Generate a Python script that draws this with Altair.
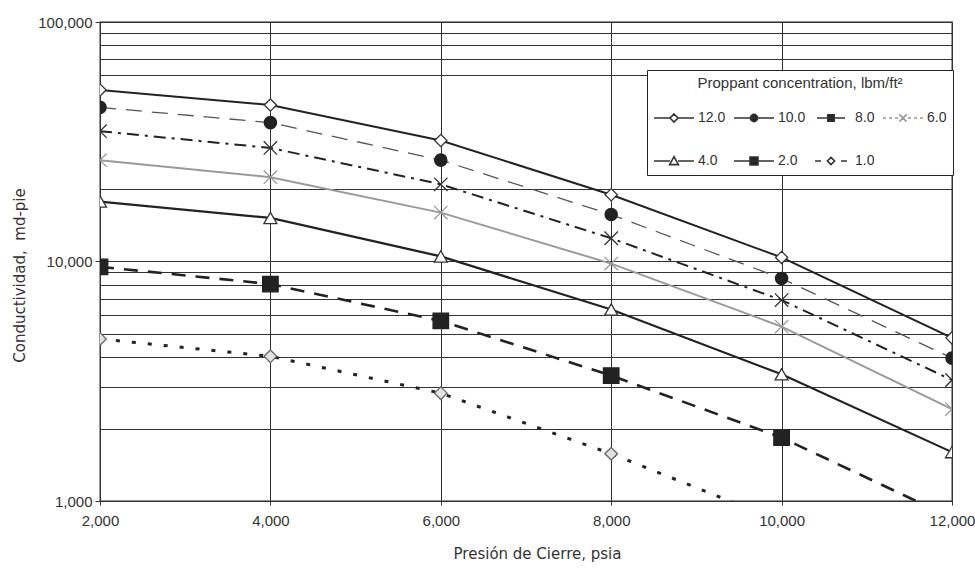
import altair as alt
import pandas as pd

# ---------------- data ----------------
pressure = [2000, 4000, 6000, 8000, 10000, 12000]
series_names = ["12.0", "10.0", "8.0", "6.0", "4.0", "2.0", "1.0"]

c12 = [52000, 45000, 32000, 19000, 10400, 4800]
c10 = [44000, 38000, 26500, 15700, 8500, 3950]
c8 = [35000, 29800, 21000, 12500, 6900, 3200]
c6 = [26500, 22500, 16000, 9800, 5350, 2420]
c4 = [17800, 15200, 10500, 6300, 3380, 1600]
c2 = [9500, 8050, 5650, 3340, 1840, 850]
c1 = [4750, 4020, 2820, 1575, 820]

x_ticks = [2000, 4000, 6000, 8000, 10000, 12000]
y_grid = [1000, 2000, 3000, 4000, 5000, 6000, 7000, 8000, 9000,
          10000, 20000, 60000, 70000, 80000, 90000, 100000]
y_labels = [1000, 10000, 100000]

values = dict(zip(series_names, [c12, c10, c8, c6, c4, c2, c1]))
rows = []
for s in series_names:
    for p, v in zip(pressure, values[s]):
        rows.append({"series": s, "pressure": p, "cond": v})
df = pd.DataFrame(rows)

# ---------------- styles ----------------
XPATH = "M-1,-1L1,1M-1,1L1,-1"
styles = {
    "12.0": dict(lc="#222", lw=2.0, dash=None, shape="diamond", fill="white", stroke="#333", size=150),
    "10.0": dict(lc="#555", lw=1.3, dash=[16, 10], shape="circle", fill="#222", stroke="#222", size=150),
    "8.0": dict(lc="#222", lw=2.0, dash=[12, 6, 3, 6], shape=XPATH, fill="transparent", stroke="#333", size=180),
    "6.0": dict(lc="#9a9a9a", lw=2.0, dash=None, shape=XPATH, fill="transparent", stroke="#999", size=180),
    "4.0": dict(lc="#222", lw=2.2, dash=None, shape="triangle-up", fill="white", stroke="#333", size=170),
    "2.0": dict(lc="#222", lw=2.6, dash=[14, 10], shape="square", fill="#222", stroke="#222", size=240),
    "1.0": dict(lc="#222", lw=3.0, dash=[4, 12], shape="diamond", fill="#e2e2e2", stroke="#666", size=160),
}

leg_paths = [
    "M-1,0H-0.2M0.2,0H1M0,-0.2L0.2,0L0,0.2L-0.2,0Z",
    "M-1,0H1M-0.18,0A0.18,0.18,0,1,0,0.18,0A0.18,0.18,0,1,0,-0.18,0Z",
    "M-0.7,0H0.7M-0.16,-0.16H0.16V0.16H-0.16Z",
    "M-1,0H-0.85M-0.7,0H-0.55M-0.4,0H-0.25M0.25,0H0.4M0.55,0H0.7M0.85,0H1M-0.18,-0.18L0.18,0.18M-0.18,0.18L0.18,-0.18",
    "M-1,0H-0.2M0.2,0H1M0,-0.22L0.22,0.18H-0.22Z",
    "M-1,0H1M-0.2,-0.2H0.2V0.2H-0.2Z",
    "M-0.8,0H-0.5M0.5,0H0.8M0,-0.18L0.18,0L0,0.18L-0.18,0Z",
]
leg_fills = ["white", "#222", "#222", "transparent", "white", "#222", "white"]
leg_strokes = ["#333", "#333", "#333", "#999", "#333", "#333", "#333"]

label_test = "datum.value == 1000 || datum.value == 10000 || datum.value == 100000"

x_enc = alt.X(
    "pressure:Q",
    scale=alt.Scale(domain=[2000, 12000], nice=False, zero=False),
    axis=alt.Axis(
        values=x_ticks, labelExpr="format(datum.value, ',')", title="Presión de Cierre, psia",
        titleFont="DejaVu Sans", titleFontSize=15, titleFontWeight="normal",
        titleColor="#333", titleX=437, titleY=57, titleBaseline="alphabetic",
        labelFont="Liberation Sans", labelFontSize=15, labelColor="#333",
        labelPadding=8, labelFlush=False, tickSize=4, tickColor="#333",
        domain=False, grid=True, gridColor="#333", gridWidth=1, gridOpacity=1,
    ),
)
y_enc = alt.Y(
    "cond:Q",
    scale=alt.Scale(type="log", domain=[1000, 100000], nice=False),
    axis=alt.Axis(
        values=y_grid,
        labelExpr=f"({label_test}) ? format(datum.value, ',') : ''",
        title="Conductividad,\u00a0\u00a0md-pie",
        titleFont="DejaVu Sans", titleFontSize=15, titleFontWeight="normal",
        titleColor="#333", titleX=-81, titleY=253, titleBaseline="middle",
        labelFont="Liberation Sans", labelFontSize=15, labelColor="#333",
        labelPadding=3, labelFlush=False, labelOverlap=False,
        tickSize=5, tickColor="#333",
        tickOpacity=alt.condition(label_test, alt.value(1), alt.value(0)),
        domain=False, grid=True, gridColor="#333", gridWidth=1, gridOpacity=1,
    ),
)

base = alt.Chart(df)
layers = []
for s in series_names:
    st = styles[s]
    kw = dict(color=st["lc"], strokeWidth=st["lw"], clip=True)
    if st["dash"]:
        kw["strokeDash"] = st["dash"]
    layers.append(
        base.transform_filter(alt.datum.series == s).mark_line(**kw).encode(x=x_enc, y=y_enc)
    )
for s in series_names:
    st = styles[s]
    layers.append(
        base.transform_filter(alt.datum.series == s)
        .mark_point(shape=st["shape"], filled=True, fill=st["fill"], stroke=st["stroke"],
                    size=st["size"], strokeWidth=1.3, opacity=1, clip=True)
        .encode(x=x_enc, y=y_enc)
    )

leg_def = alt.Legend(
    title="Proppant concentration, lbm/ft²",
    orient="none", legendX=547, legendY=48,
    direction="horizontal", columns=4, gridAlign="none",
    symbolSize=1600, symbolStrokeWidth=1.6,
    fillColor="white", strokeColor="#222", padding=6,
    titleFont="Liberation Sans", titleFontSize=15, titleFontWeight="normal",
    titleColor="#333", titleAnchor="middle", titlePadding=6, titleLimit=400,
    labelFont="Liberation Sans", labelFontSize=14, labelColor="#333",
    labelOffset=3, columnPadding=4, rowPadding=14,
)
legend_layer = base.transform_filter("false").mark_point(
    filled=True, opacity=1, strokeWidth=1.6
).encode(
    x=x_enc, y=y_enc,
    shape=alt.Shape("series:N", scale=alt.Scale(domain=series_names, range=leg_paths), legend=leg_def),
    fill=alt.Fill("series:N", scale=alt.Scale(domain=series_names, range=leg_fills), legend=leg_def),
    stroke=alt.Stroke("series:N", scale=alt.Scale(domain=series_names, range=leg_strokes), legend=leg_def),
)
layers.append(legend_layer)

chart = alt.layer(*layers).properties(
    width=852, height=479,
    autosize=alt.AutoSizeParams(type="none"),
    padding={"left": 100, "top": 22, "right": 23, "bottom": 69},
    background="white",
).configure_view(stroke="#222", strokeWidth=1.3)

chart.save("out.html", embed_options={"renderer": "svg", "actions": False})
